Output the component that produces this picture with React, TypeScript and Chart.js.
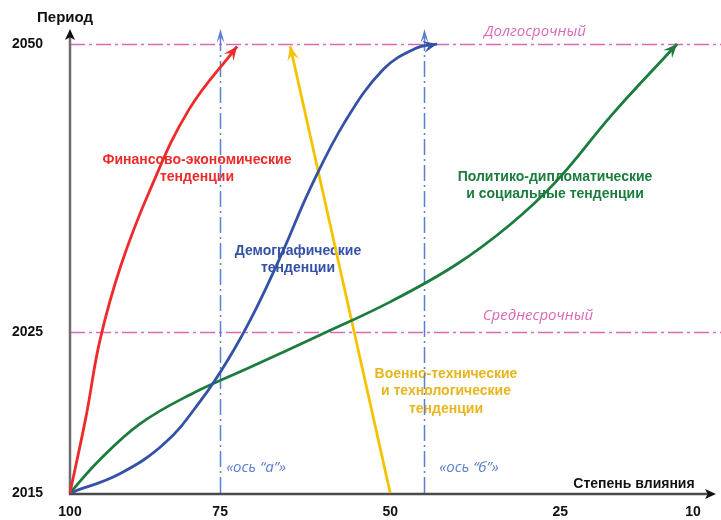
import React, { useEffect, useRef } from 'react';
import { Chart, registerables, LinearScale } from 'chart.js';

Chart.register(...registerables);

// ---- Axis ticks ----
const X_TICKS = [100, 75, 50, 25, 10]; // Степень влияния
const Y_TICKS = [2015, 2025, 2050]; // Период
// where each tick sits along its axis (0 = start, 1 = end) — the axes are not uniform in the original
const X_TICK_FRACTIONS = [0, 0.241, 0.514, 0.787, 1];
const Y_TICK_FRACTIONS = [0, 0.359, 1];

// ---- Series (influence, year) ----
const FIN_X = [100, 97.3, 95.0, 91.5, 86.7, 80.2, 72.5];
const FIN_Y = [2015, 2019.8, 2024.5, 2030.8, 2037.3, 2044.3, 2049.8];

const DEMO_X = [100, 91.7, 84.2, 78.3, 73.8, 69.9, 65.7, 61.8, 56.6, 51.0, 46.3, 43.1];
const DEMO_Y = [2015, 2016.2, 2018.1, 2020.7, 2023.3, 2026.8, 2032.1, 2037.4, 2043.3, 2047.8, 2049.6, 2050.0];

const POL_X = [100, 95.2, 88.3, 80.0, 70.6, 60.3, 50.0, 40.4, 32.4, 25.7, 19.0, 11.8];
const POL_Y = [2015, 2017.0, 2019.3, 2021.1, 2022.8, 2024.8, 2027.6, 2030.8, 2034.3, 2038.0, 2044.0, 2050.0];

const MIL_X = [50, 64.7];
const MIL_Y = [2015, 2049.8];

// ---- Reference lines ----
const HORIZONS = [2025, 2050];
const HORIZON_LABELS = ['Среднесрочный', 'Долгосрочный'];
const INFLUENCE_AXES = [75, 45];
const INFLUENCE_AXIS_LABELS = ['«ось “а”»', '«ось “б”»'];

const SERIES_NAMES = [
  ['Финансово-экономические', 'тенденции'],
  ['Демографические', 'тенденции'],
  ['Политико-дипломатические', 'и социальные тенденции'],
  ['Военно-технические', 'и технологические', 'тенденции'],
];

// ---- Styles ----
const FONT = '"Liberation Sans", Arial, sans-serif';
const THIN_FONT = '"Open Sans", "DejaVu Sans", sans-serif';
const RED = '#ee2a2a';
const BLUE = '#3351a6';
const GREEN = '#1b7c3d';
const YELLOW = '#f6c200';
const YELLOW_TEXT = '#e8b51c';
const PINK = '#d86ab8';
const AXIS_BLUE = '#5a7fd2';

// ---- Piecewise linear scale (uniform between ticks) ----
const BREAKS: Record<string, { v: number[]; f: number[] }> = {
  x: { v: X_TICKS, f: X_TICK_FRACTIONS },
  y: { v: Y_TICKS, f: Y_TICK_FRACTIONS },
};

function interp(val: number, xs: number[], ys: number[]): number {
  const n = xs.length;
  const dir = Math.sign(xs[n - 1] - xs[0]) || 1;
  let i = n - 2;
  if ((val - xs[0]) * dir <= 0) i = 0;
  else {
    for (let k = 0; k < n - 1; k++) {
      if ((xs[k + 1] - val) * dir >= 0) { i = k; break; }
    }
  }
  return ys[i] + ((val - xs[i]) / (xs[i + 1] - xs[i])) * (ys[i + 1] - ys[i]);
}

class PiecewiseScale extends LinearScale {
  static id = 'piecewise';
  static defaults = {};
  getPixelForValue(value: any) {
    if (value === null || value === undefined || isNaN(value)) return NaN;
    const b = BREAKS[(this as any).id];
    return this.getPixelForDecimal(interp(+value, b.v, b.f));
  }
  getValueForPixel(pixel: number) {
    const b = BREAKS[(this as any).id];
    return interp(this.getDecimalForPixel(pixel), b.f, b.v);
  }
}
Chart.register(PiecewiseScale as any);

function arrowHead(ctx: CanvasRenderingContext2D, x: number, y: number, ang: number, L: number, W: number, notch: number, color: string) {
  ctx.save();
  ctx.translate(x, y);
  ctx.rotate(ang);
  ctx.beginPath();
  ctx.moveTo(0, 0);
  ctx.lineTo(-L, -W);
  ctx.lineTo(-L * notch, 0);
  ctx.lineTo(-L, W);
  ctx.closePath();
  ctx.fillStyle = color;
  ctx.fill();
  ctx.restore();
}

const overlay = {
  id: 'overlay',
  beforeDatasetsDraw(chart: any) {
    const ctx: CanvasRenderingContext2D = chart.ctx;
    const xs = chart.scales.x;
    const ys = chart.scales.y;
    const ox = xs.getPixelForValue(100);
    const oy = ys.getPixelForValue(2015);
    ctx.save();

    // series labels
    ctx.textAlign = 'center';
    ctx.textBaseline = 'middle';
    ctx.font = `bold 14px ${FONT}`;
    const labelPos: [number, number, string][] = [
      [197, 160, RED],
      [298, 251, BLUE],
      [555, 177, GREEN],
      [446, 374, YELLOW_TEXT],
    ];
    SERIES_NAMES.forEach((lines, i) => {
      const [cx, cy, col] = labelPos[i];
      ctx.fillStyle = col;
      lines.forEach((t, j) => ctx.fillText(t, cx, cy + j * 17.5));
    });

    // horizon labels
    ctx.font = `italic 15px ${THIN_FONT}`;
    ctx.fillStyle = PINK;
    const hLabelPos: [number, number][] = [[538, 316], [535, 32]];
    HORIZON_LABELS.forEach((t, i) => ctx.fillText(t, hLabelPos[i][0], hLabelPos[i][1]));

    // horizon lines
    ctx.strokeStyle = PINK;
    ctx.lineWidth = 1.6;
    ctx.setLineDash([15, 4, 3, 4]);
    HORIZONS.forEach((h) => {
      const py = Math.round(ys.getPixelForValue(h)) + 0.5;
      ctx.beginPath();
      ctx.moveTo(ox, py);
      ctx.lineTo(chart.width, py);
      ctx.stroke();
    });

    // influence axes (vertical)
    const topY = ys.getPixelForValue(2050) - 15;
    ctx.strokeStyle = AXIS_BLUE;
    ctx.lineWidth = 1.5;
    ctx.setLineDash([16, 4, 2, 4]);
    INFLUENCE_AXES.forEach((v) => {
      const px = Math.round(xs.getPixelForValue(v)) + 0.5;
      ctx.beginPath();
      ctx.moveTo(px, oy);
      ctx.lineTo(px, topY + 8);
      ctx.stroke();
    });
    ctx.setLineDash([]);
    INFLUENCE_AXES.forEach((v) => {
      const px = Math.round(xs.getPixelForValue(v)) + 0.5;
      arrowHead(ctx, px, topY, -Math.PI / 2, 14, 4, 0.55, AXIS_BLUE);
    });
    ctx.font = `italic 15px ${THIN_FONT}`;
    ctx.fillStyle = AXIS_BLUE;
    ctx.textAlign = 'left';
    const axOff = [6, 15];
    INFLUENCE_AXIS_LABELS.forEach((t, i) => {
      const px = xs.getPixelForValue(INFLUENCE_AXES[i]);
      ctx.fillText(t, px + axOff[i], oy - 25);
    });

    // main axes
    ctx.setLineDash([]);
    ctx.lineWidth = 2.5;
    ctx.strokeStyle = '#6d6d6d';
    ctx.beginPath();
    ctx.moveTo(ox, oy + 2);
    ctx.lineTo(ox, 36);
    ctx.stroke();
    arrowHead(ctx, ox, 29, -Math.PI / 2, 11, 5, 0.75, '#111');
    ctx.strokeStyle = '#4a4a4a';
    ctx.beginPath();
    ctx.moveTo(ox - 1, oy + 1);
    ctx.lineTo(708, oy + 1);
    ctx.stroke();
    arrowHead(ctx, 716, oy + 1, 0, 11, 5, 0.75, '#111');

    // axis titles
    ctx.fillStyle = '#111';
    ctx.textAlign = 'center';
    ctx.font = `bold 15px ${FONT}`;
    ctx.fillText('Период', 65, 18);
    ctx.font = `bold 14px ${FONT}`;
    ctx.fillText('Степень влияния', 634, 484);

    ctx.restore();
  },
  afterDatasetsDraw(chart: any) {
    const ctx: CanvasRenderingContext2D = chart.ctx;
    chart.data.datasets.forEach((ds: any, i: number) => {
      const pts = chart.getDatasetMeta(i).data;
      const last = pts[pts.length - 1];
      const prev = pts[pts.length - 2];
      let fx = prev.x, fy = prev.y;
      if (last.cp1x !== undefined && Math.hypot(last.cp1x - last.x, last.cp1y - last.y) > 2) {
        fx = last.cp1x; fy = last.cp1y;
      }
      const ang = Math.atan2(last.y - fy, last.x - fx);
      arrowHead(ctx, last.x, last.y, ang, 14, 6, 0.6, ds.borderColor);
    });
  },
};

const toPts = (xs: number[], ys: number[]) => xs.map((x, i) => ({ x, y: ys[i] }));

export default function App() {
  const ref = useRef<HTMLCanvasElement>(null);
  useEffect(() => {
    const tickFont = { family: FONT, size: 14, weight: 'bold' as const };
    const chart = new Chart(ref.current!, {
      type: 'line',
      data: {
        datasets: [
          { label: SERIES_NAMES[0].join(' '), data: toPts(FIN_X, FIN_Y), borderColor: RED },
          { label: SERIES_NAMES[1].join(' '), data: toPts(DEMO_X, DEMO_Y), borderColor: BLUE },
          { label: SERIES_NAMES[2].join(' '), data: toPts(POL_X, POL_Y), borderColor: GREEN },
          { label: SERIES_NAMES[3].join(' '), data: toPts(MIL_X, MIL_Y), borderColor: YELLOW, tension: 0 },
        ].map((d) => ({
          tension: 0.4,
          ...d,
          clip: false as any,
          pointRadius: 0,
          borderWidth: 2.8,
          fill: false,
        })),
      },
      options: {
        animation: false,
        responsive: false,
        devicePixelRatio: 1,
        events: [],
        layout: { padding: { top: 44, right: 28, left: 12, bottom: 0 } },
        elements: { line: { borderCapStyle: 'butt' } },
        plugins: { legend: { display: false }, tooltip: { enabled: false } },
        scales: {
          x: {
            type: 'piecewise' as any,
            min: 10,
            max: 100,
            grid: { display: false, drawTicks: false },
            border: { display: false },
            afterBuildTicks: (s: any) => { s.ticks = X_TICKS.map((v) => ({ value: v })); },
            afterFit: (s: any) => { s.height = 27; },
            ticks: { autoSkip: false, maxRotation: 0, padding: 11, color: '#111', font: tickFont, callback: (v: any) => String(v) },
          },
          y: {
            type: 'piecewise' as any,
            min: 2015,
            max: 2050,
            grid: { display: false, drawTicks: false },
            border: { display: false },
            afterBuildTicks: (s: any) => { s.ticks = Y_TICKS.map((v) => ({ value: v })); },
            afterFit: (s: any) => { s.width = 58; },
            ticks: { autoSkip: false, padding: 2, crossAlign: 'far', color: '#111', font: tickFont, callback: (v: any) => String(v) },
          },
        } as any,
      },
      plugins: [overlay as any],
    });
    return () => chart.destroy();
  }, []);
  return (
    <div style={{ position: 'absolute', left: 0, top: 0, width: 721, height: 520, background: '#fff' }}>
      <canvas ref={ref} width={721} height={520} style={{ display: 'block' }} />
    </div>
  );
}
